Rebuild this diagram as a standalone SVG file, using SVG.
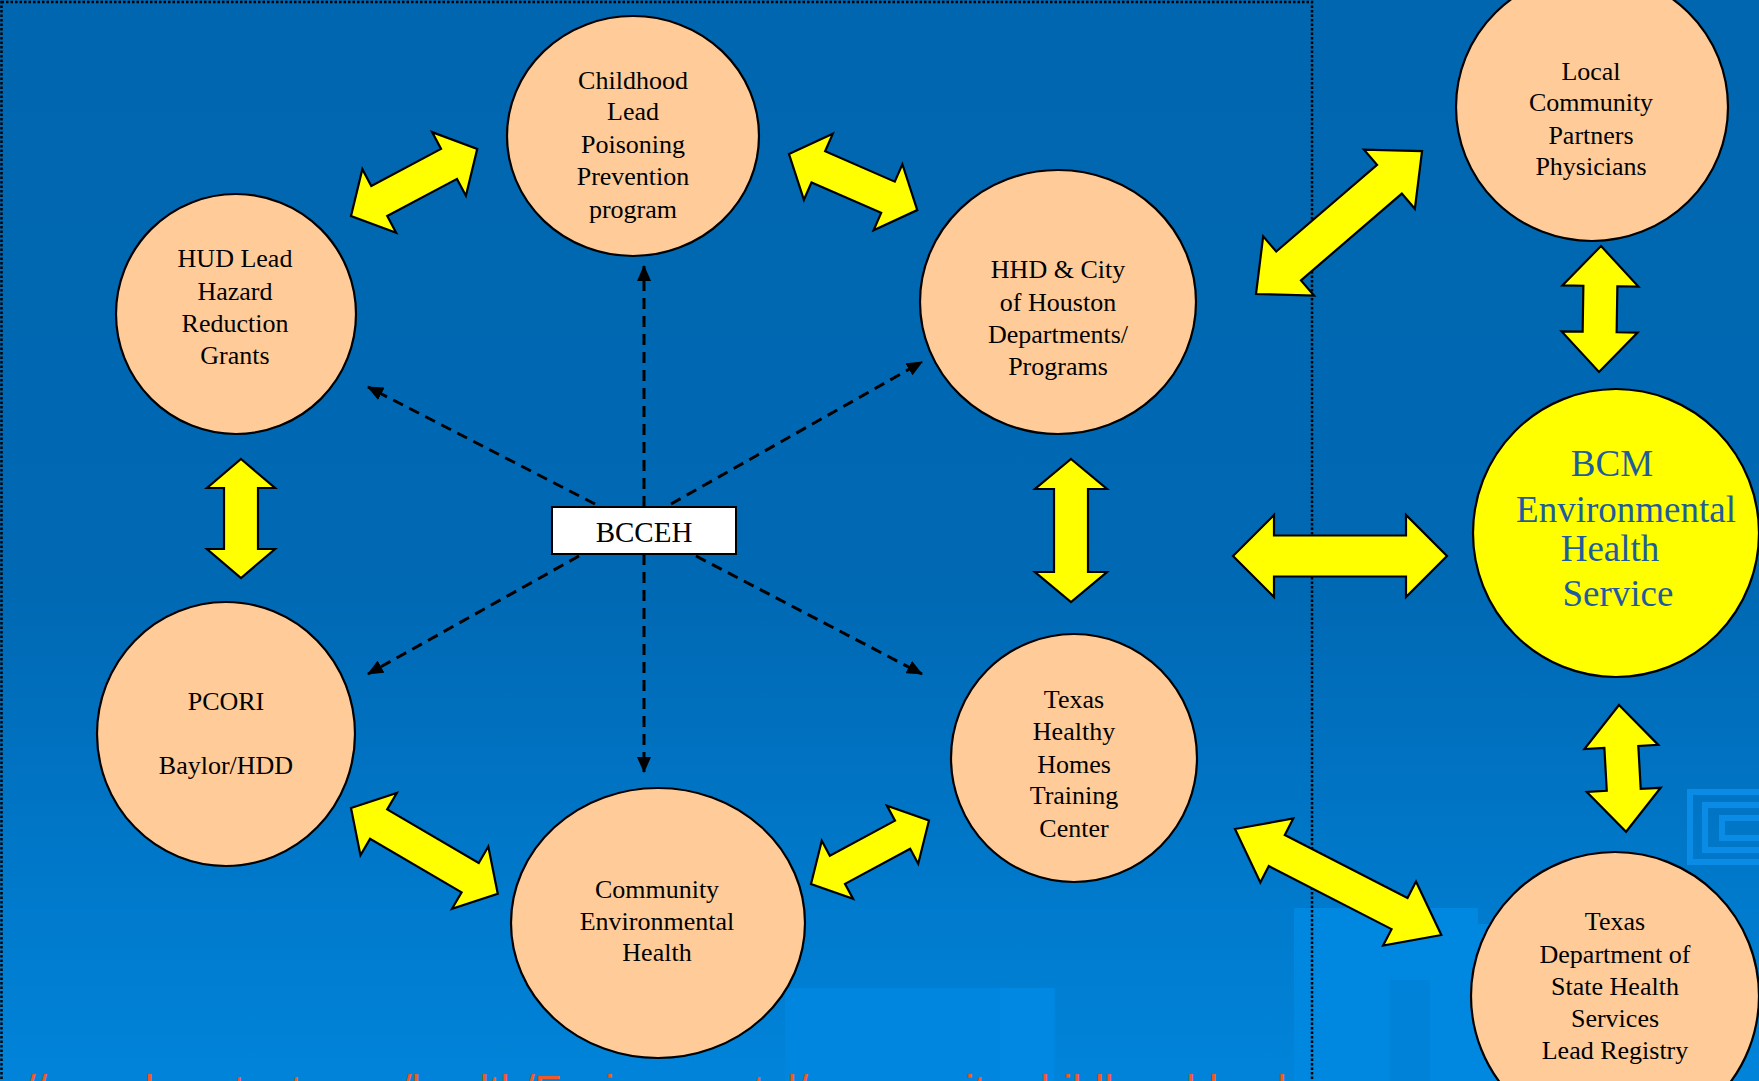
<svg xmlns="http://www.w3.org/2000/svg" width="1759" height="1081" viewBox="0 0 1759 1081">
<defs>
<linearGradient id="bg" x1="0" y1="0" x2="0" y2="1">
<stop offset="0" stop-color="#0066AF"/>
<stop offset="0.55" stop-color="#0069B4"/>
<stop offset="1" stop-color="#0084DA"/>
</linearGradient>
<marker id="ah" markerUnits="userSpaceOnUse" markerWidth="16" markerHeight="14" refX="15" refY="7" orient="auto">
<path d="M0,0 L16,7 L0,14 z" fill="#000"/>
</marker>
<style>
.node{fill:#FFCC99;stroke:#000;stroke-width:2.2}
.yel{fill:#FFFF00;stroke:#000;stroke-width:2.2;stroke-linejoin:miter}
.t{font-family:"Liberation Serif","Times New Roman",serif;font-size:26px;fill:#000;text-anchor:middle}
.bt{font-family:"Liberation Serif","Times New Roman",serif;font-size:37px;fill:#1F5C9E;text-anchor:middle}
.dash{stroke:#000;stroke-width:3;stroke-dasharray:11 7;fill:none;marker-end:url(#ah)}
.dec{fill:#0088E0}
.decl{fill:none;stroke:#0A8CE6;stroke-width:6}
</style>
</defs>
<rect x="0" y="0" width="1759" height="1081" fill="url(#bg)"/>
<g id="decor">
<rect class="dec" x="1294" y="908" width="184" height="173"/>
<rect class="dec" x="1478" y="924" width="80" height="157"/>
<rect x="785" y="988" width="270" height="93" fill="#0086DE"/>
<rect x="1000" y="988" width="53" height="93" fill="#0088E2"/>
<rect x="1390" y="980" width="40" height="101" fill="#0082D8"/>
<rect class="decl" x="1690" y="792" width="80" height="70"/>
<rect class="decl" x="1705" y="805" width="60" height="45"/>
<rect class="decl" x="1722" y="818" width="40" height="20"/>
</g>
<rect x="1.5" y="2" width="1310.5" height="1100" fill="none" stroke="#000" stroke-width="2.5" stroke-dasharray="2.5 2"/>
<text x="24" y="1104" font-family="Liberation Sans, Arial, sans-serif" font-size="41" fill="#F05A28">//www.houstontx.gov/health/Environmental/community-childhood-lead</text>
<g id="connectors">
<line class="dash" x1="644" y1="507" x2="644" y2="266"/>
<line class="dash" x1="644" y1="554" x2="644" y2="772"/>
<line class="dash" x1="595" y1="504" x2="368" y2="387"/>
<line class="dash" x1="671" y1="504" x2="922" y2="362"/>
<line class="dash" x1="579" y1="556" x2="368" y2="674"/>
<line class="dash" x1="696" y1="556" x2="922" y2="674"/>
<polygon class="yel" transform="translate(351,216) rotate(-28)" points="0,0 32,-36 32,-17 111,-17 111,-36 143,0 111,36 111,17 32,17 32,36"/>
<polygon class="yel" transform="translate(789,154) rotate(23.6)" points="0,0 32,-36 32,-17 108,-17 108,-36 140,0 108,36 108,17 32,17 32,36"/>
<polygon class="yel" transform="translate(1256,294) rotate(-40.7)" points="0,0 43,-39 43,-19 176,-19 176,-39 219,0 176,39 176,19 43,19 43,39"/>
<polygon class="yel" transform="translate(1601,246) rotate(90.9)" points="0,0 40,-38 40,-17 86,-17 86,-38 126,0 86,38 86,17 40,17 40,38"/>
<polygon class="yel" transform="translate(1233,556)" points="0,0 41,-41 41,-20.5 173,-20.5 173,-41 214,0 173,41 173,20.5 41,20.5 41,41"/>
<polygon class="yel" transform="translate(1619,705) rotate(86.8)" points="0,0 42,-37 42,-17 85,-17 85,-37 127,0 85,37 85,17 42,17 42,37"/>
<polygon class="yel" transform="translate(1235,829) rotate(27.2)" points="0,0 47,-36 47,-17.5 185,-17.5 185,-36 232,0 185,36 185,17.5 47,17.5 47,36"/>
<polygon class="yel" transform="translate(811,884) rotate(-28.3)" points="0,0 30,-33 30,-16 104,-16 104,-33 134,0 104,33 104,16 30,16 30,33"/>
<polygon class="yel" transform="translate(351,808) rotate(30.3)" points="0,0 32,-36 32,-17 138,-17 138,-36 170,0 138,36 138,17 32,17 32,36"/>
<polygon class="yel" transform="translate(241,459) rotate(90)" points="0,0 29,-34 29,-17 90,-17 90,-34 119,0 90,34 90,17 29,17 29,34"/>
<polygon class="yel" transform="translate(1071,459) rotate(90)" points="0,0 30,-36 30,-17 113,-17 113,-36 143,0 113,36 113,17 30,17 30,36"/>
</g>
<g id="bcceh">
<rect x="552" y="507" width="184" height="47" fill="#fff" stroke="#000" stroke-width="2"/>
<text x="644" y="542" font-family="Liberation Serif, Times New Roman, serif" font-size="29" text-anchor="middle">BCCEH</text>
</g>
<g id="childhood">
<ellipse class="node" cx="633" cy="136" rx="126" ry="120"/>
<text class="t" x="633" y="89">Childhood</text>
<text class="t" x="633" y="120">Lead</text>
<text class="t" x="633" y="153">Poisoning</text>
<text class="t" x="633" y="185">Prevention</text>
<text class="t" x="633" y="218">program</text>
</g>
<g id="hud">
<ellipse class="node" cx="236" cy="314" rx="120" ry="120"/>
<text class="t" x="235" y="267">HUD Lead</text>
<text class="t" x="235" y="300">Hazard</text>
<text class="t" x="235" y="332">Reduction</text>
<text class="t" x="235" y="364">Grants</text>
</g>
<g id="hhd">
<ellipse class="node" cx="1058" cy="302" rx="138" ry="132"/>
<text class="t" x="1058" y="278">HHD &amp; City</text>
<text class="t" x="1058" y="311">of Houston</text>
<text class="t" x="1058" y="343">Departments/</text>
<text class="t" x="1058" y="375">Programs</text>
</g>
<g id="pcori">
<ellipse class="node" cx="226" cy="734" rx="129" ry="132"/>
<text class="t" x="226" y="710">PCORI</text>
<text class="t" x="226" y="774">Baylor/HDD</text>
</g>
<g id="community">
<ellipse class="node" cx="658" cy="923" rx="147" ry="135"/>
<text class="t" x="657" y="898">Community</text>
<text class="t" x="657" y="930">Environmental</text>
<text class="t" x="657" y="961">Health</text>
</g>
<g id="txhh">
<ellipse class="node" cx="1074" cy="758" rx="123" ry="124"/>
<text class="t" x="1074" y="708">Texas</text>
<text class="t" x="1074" y="740">Healthy</text>
<text class="t" x="1074" y="773">Homes</text>
<text class="t" x="1074" y="804">Training</text>
<text class="t" x="1074" y="837">Center</text>
</g>
<g id="local">
<ellipse class="node" cx="1592" cy="107" rx="136" ry="134"/>
<text class="t" x="1591" y="80">Local</text>
<text class="t" x="1591" y="111">Community</text>
<text class="t" x="1591" y="144">Partners</text>
<text class="t" x="1591" y="175">Physicians</text>
</g>
<g id="bcm">
<ellipse cx="1616" cy="533" rx="143" ry="144" fill="#FFFF00" stroke="#000" stroke-width="2.2"/>
<text class="bt" x="1612" y="476">BCM</text>
<text class="bt" x="1626" y="522">Environmental</text>
<text class="bt" x="1610" y="561">Health</text>
<text class="bt" x="1618" y="606">Service</text>
</g>
<g id="txdshs">
<ellipse class="node" cx="1615" cy="996" rx="144" ry="144"/>
<text class="t" x="1615" y="930">Texas</text>
<text class="t" x="1615" y="963">Department of</text>
<text class="t" x="1615" y="995">State Health</text>
<text class="t" x="1615" y="1027">Services</text>
<text class="t" x="1615" y="1059">Lead Registry</text>
</g>
</svg>
